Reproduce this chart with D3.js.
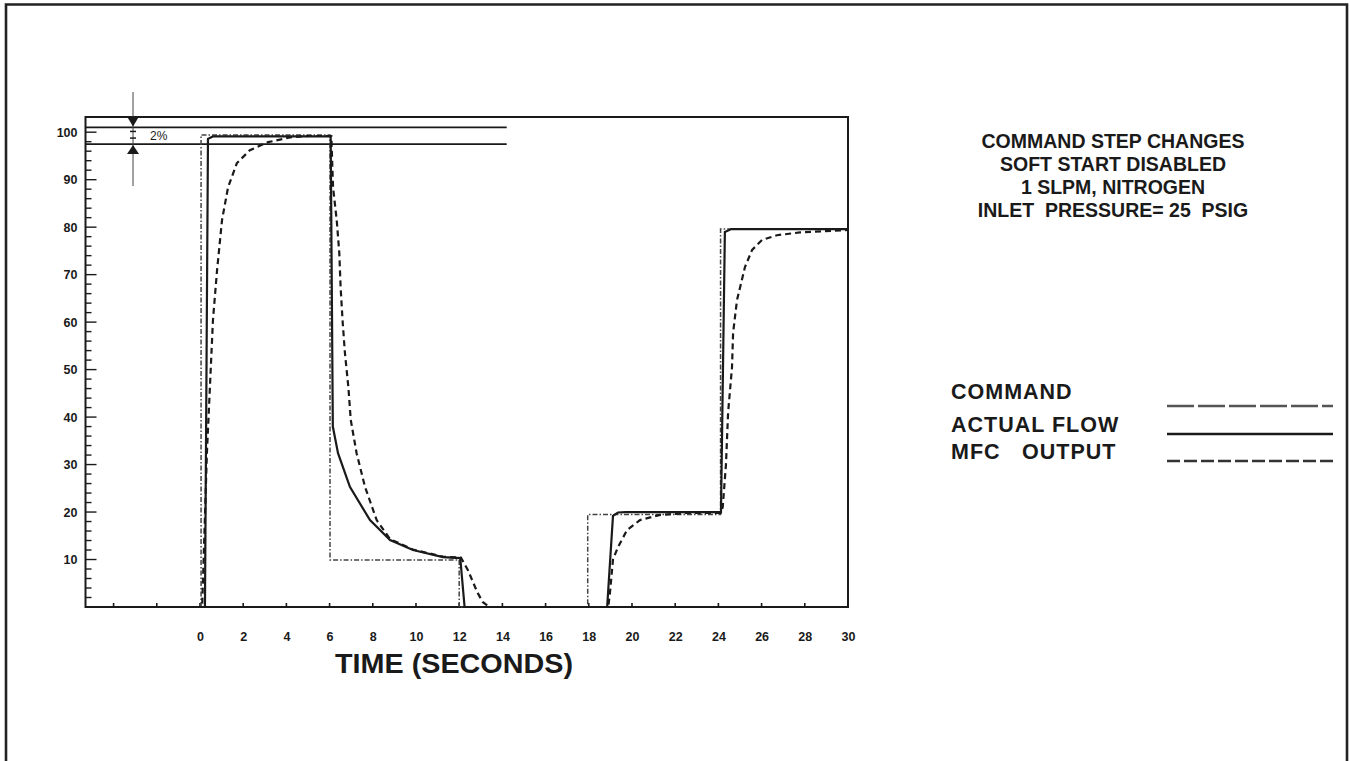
<!DOCTYPE html>
<html>
<head>
<meta charset="utf-8">
<script src="https://cdn.jsdelivr.net/npm/d3@7"></script>
<style>
  html, body { margin: 0; padding: 0; background: #fff; }
  svg { display: block; }
  text { font-family: "Liberation Sans", Arial, Helvetica, sans-serif; font-weight: bold; fill: #1a1a1a; white-space: pre; }
</style>
</head>
<body>
<svg id="chart" width="1350" height="761"></svg>
<script>
// ---------------- data ----------------
const xTickLabels = [0, 2, 4, 6, 8, 10, 12, 14, 16, 18, 20, 22, 24, 26, 28, 30];
const xMinorTicks = [-4, -2, 0, 2, 4, 6, 8, 10, 12, 14, 16, 18, 20, 22, 24, 26, 28];
const yTickLabels = [10, 20, 30, 40, 50, 60, 70, 80, 90, 100];
const yMinorTicks = [2, 4, 6, 8, 12, 14, 16, 18, 22, 24, 26, 28, 32, 34, 36, 38, 42, 44, 46, 48,
                     52, 54, 56, 58, 62, 64, 66, 68, 72, 74, 76, 78, 82, 84, 86, 88, 92, 94, 96, 98];
const bandLimits = [101.0, 97.5];        // the "2%" band lines
const bandLabel = "2%";

// time (s), percent of full scale
const commandT = [-5.3, 0.05, 0.05, 6.02, 6.02, 12.0, 12.0, 17.95, 17.95, 24.1, 24.1, 30];
const commandV = [0, 0, 99.4, 99.4, 9.9, 9.9, 0, 0, 19.5, 19.5, 79.6, 79.6];

const actualT = [-5.3, 0.23, 0.37, 0.6, 6.05, 6.15, 6.39, 6.94, 7.87, 8.8, 9.86, 11.25, 12.05, 12.25,
                 18.85, 19.12, 19.35, 19.7, 24.12, 24.3, 24.6, 30];
const actualV = [0, 0, 98.6, 99.1, 99.1, 38, 32.4, 25.3, 18.3, 14.1, 12.0, 10.5, 10.3, 0,
                 0, 19.2, 19.9, 20.0, 20.0, 79.0, 79.6, 79.6];

const mfcT = [-5.3, 0.1, 0.32, 0.46, 0.6, 0.79, 1.02, 1.3, 1.71, 2.31, 3.15, 4.17, 5.0, 6.08,
              6.16, 6.33, 6.45, 6.51, 6.6, 6.71, 6.87, 6.98, 7.25, 7.64, 8.18, 8.8, 9.86, 11.25, 12.08,
              12.4, 12.85, 13.1, 13.4, 18.9, 18.98, 19.12, 19.35, 19.77, 20.37, 21.3, 22.5, 24.1,
              24.2, 24.35, 24.45, 24.63, 24.68, 24.86, 25.23, 25.56, 26.02, 26.71, 27.78, 30];
const mfcV = [0, 0, 32.4, 46.3, 60.4, 70.9, 81.5, 88.4, 93.5, 96.2, 97.9, 98.9, 99.2, 99.2,
              88.4, 81.5, 74.5, 67.4, 60.4, 53.5, 46.3, 39.4, 32.4, 25.3, 18.3, 14.3, 12.1, 10.6, 10.4,
              7.8, 3.0, 1.0, 0, 0, 3.0, 10.0, 12.6, 16.2, 18.3, 19.4, 19.8, 19.8,
              21, 30, 41, 50.5, 57.7, 64.6, 71.6, 75.2, 77.3, 78.3, 78.9, 79.4];

const titleLines = ["COMMAND STEP CHANGES", "SOFT START DISABLED", "1 SLPM, NITROGEN", "INLET  PRESSURE= 25  PSIG"];
const legendNames = ["COMMAND", "ACTUAL FLOW", "MFC"];
const xTitle = "TIME (SECONDS)";

// ---------------- layout ----------------
const svg = d3.select("#chart");
const x = d3.scaleLinear().domain([-5.3, 30]).range([85.5, 848]);
const y = d3.scaleLinear().domain([0, 103.2]).range([607, 117]);
const ink = "#1a1a1a";

// outer page border (left, top, right)
svg.append("path").attr("d", "M6,761 V4.5 H1347 V761")
  .attr("fill", "none").attr("stroke", "#222").attr("stroke-width", 2.6);

const g = svg.append("g");

// band lines
g.selectAll("line.band").data(bandLimits).join("line")
  .attr("x1", x(-5.3)).attr("x2", x(14.2))
  .attr("y1", d => y(d)).attr("y2", d => y(d))
  .attr("stroke", ink).attr("stroke-width", 1.8);

// axes: labels
const xAxis = d3.axisBottom(x).tickValues(xTickLabels).tickSize(0).tickPadding(25).tickFormat(d3.format("d"));
const xa = g.append("g").attr("transform", `translate(0,${y(0)})`).call(xAxis);
xa.select(".domain").remove();
xa.selectAll("text").style("font-size", "12.5px").attr("fill", ink);

const yAxis = d3.axisLeft(y).tickValues(yTickLabels).tickSize(0).tickPadding(8).tickFormat(d3.format("d"));
const ya = g.append("g").attr("transform", `translate(${x(-5.3)},0)`).call(yAxis);
ya.select(".domain").remove();
ya.selectAll("text").style("font-size", "12.5px").attr("fill", ink);

// inward ticks
g.selectAll("line.ymin").data(yMinorTicks).join("line")
  .attr("x1", x(-5.3)).attr("x2", x(-5.3) + 6)
  .attr("y1", d => y(d)).attr("y2", d => y(d))
  .attr("stroke", ink).attr("stroke-width", 1.4);
g.selectAll("line.ymaj").data(yTickLabels).join("line")
  .attr("x1", x(-5.3)).attr("x2", x(-5.3) + 11)
  .attr("y1", d => y(d)).attr("y2", d => y(d))
  .attr("stroke", ink).attr("stroke-width", 1.4);
g.selectAll("line.xmin").data(xMinorTicks).join("line")
  .attr("x1", d => x(d)).attr("x2", d => x(d))
  .attr("y1", y(0)).attr("y2", y(0) - 4)
  .attr("stroke", ink).attr("stroke-width", 1.6);

// frame
g.append("rect").attr("x", x(-5.3)).attr("y", y(103.2))
  .attr("width", x(30) - x(-5.3)).attr("height", y(0) - y(103.2))
  .attr("fill", "none").attr("stroke", ink).attr("stroke-width", 2);

// 2% marker
const mx = x(-3.1);
g.append("line").attr("x1", mx).attr("x2", mx).attr("y1", 92).attr("y2", 186)
  .attr("stroke", "#444").attr("stroke-width", 1);
g.append("path")
  .attr("d", `M${mx - 6},${y(bandLimits[0]) - 11} L${mx + 6},${y(bandLimits[0]) - 11} L${mx},${y(bandLimits[0]) - 1} Z`)
  .attr("fill", ink);
g.append("path")
  .attr("d", `M${mx - 6},${y(bandLimits[1]) + 10} L${mx + 6},${y(bandLimits[1]) + 10} L${mx},${y(bandLimits[1]) + 1} Z`)
  .attr("fill", ink);
[y(bandLimits[0]) + 4, y(bandLimits[1]) - 6].forEach(yy => {
  g.append("line").attr("x1", mx - 3).attr("x2", mx + 3).attr("y1", yy).attr("y2", yy)
    .attr("stroke", ink).attr("stroke-width", 1.5);
});
g.append("text").attr("x", mx + 17).attr("y", (y(bandLimits[0]) + y(bandLimits[1])) / 2 + 4)
  .style("font-size", "12px").style("font-weight", "normal").text(bandLabel);

// series
const line = d3.line().x(d => x(d[0])).y(d => y(d[1]));
const zip = (a, b) => a.map((t, i) => [t, b[i]]);

g.append("path").datum(zip(commandT, commandV)).attr("d", line)
  .attr("fill", "none").attr("stroke", "#444").attr("stroke-width", 1.5)
  .attr("stroke-dasharray", "5,2,1.5,2");
g.append("path").datum(zip(mfcT, mfcV)).attr("d", line)
  .attr("fill", "none").attr("stroke", ink).attr("stroke-width", 2.2)
  .attr("stroke-dasharray", "6,4");
g.append("path").datum(zip(actualT, actualV)).attr("d", line)
  .attr("fill", "none").attr("stroke", ink).attr("stroke-width", 2.2);

// x axis title
g.append("text").attr("x", 454).attr("y", 673).attr("text-anchor", "middle")
  .style("font-size", "27px").attr("textLength", 238).attr("lengthAdjust", "spacingAndGlyphs").text(xTitle);

// title block
svg.selectAll("text.title").data(titleLines).join("text")
  .attr("x", 1113).attr("y", (d, i) => 148 + i * 23).attr("text-anchor", "middle")
  .style("font-size", "19.5px").text(d => d);

// legend
const legY = [399, 432, 459];
svg.selectAll("text.leg").data(legendNames).join("text")
  .attr("x", 951).attr("y", (d, i) => legY[i])
  .style("font-size", "21.5px").style("letter-spacing", "1px").text(d => d);
svg.append("text").attr("x", 1022).attr("y", legY[2])
  .style("font-size", "21.5px").style("letter-spacing", "1px").text("OUTPUT");

const legLineY = [406, 434, 461];
const legStyles = [
  { dash: "27,4", w: 2.4, c: "#555" },
  { dash: null, w: 2.4, c: ink },
  { dash: "13,4", w: 2.6, c: "#333" }
];
legStyles.forEach((s, i) => {
  svg.append("line").attr("x1", 1167).attr("x2", 1333)
    .attr("y1", legLineY[i]).attr("y2", legLineY[i])
    .attr("stroke", s.c).attr("stroke-width", s.w)
    .attr("stroke-dasharray", s.dash);
});
</script>
</body>
</html>
